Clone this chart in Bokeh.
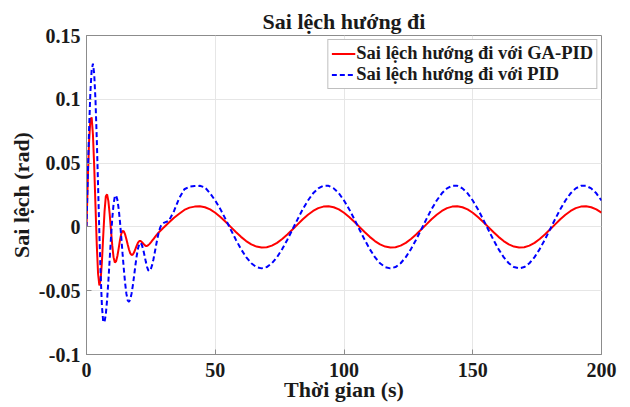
from bokeh.plotting import figure
from bokeh.models import Range1d, FixedTicker, CustomJSTickFormatter, Legend, LegendItem
from bokeh.embed import file_html
from bokeh.resources import INLINE

TITLE = "Sai lệch hướng đi"
X_LABEL = "Thời gian (s)"
Y_LABEL = "Sai lệch (rad)"
LABEL_GA = "Sai lệch hướng đi với GA-PID"
LABEL_PID = "Sai lệch hướng đi với PID"
X_TICKS = [0, 50, 100, 150, 200]
Y_TICKS = [-0.1, -0.05, 0, 0.05, 0.1, 0.15]

time_transient = [0, 0.5, 1, 1.5, 2, 2.5, 3, 3.5, 4, 4.5, 5, 5.5, 6, 6.5, 7, 7.5, 8, 8.5, 9, 9.5,
                  10, 10.5, 11, 11.5, 12, 12.5, 13, 13.5, 14, 14.5, 15, 15.5, 16, 16.5, 17, 17.5,
                  18, 18.5, 19, 19.5, 20, 20.5, 21, 21.5, 22, 22.5, 23, 23.5, 24, 24.5, 25, 25.5,
                  26, 26.5, 27, 27.5, 28, 28.5, 29, 29.5, 30]
time_steady = [32, 34, 36, 38, 40, 42, 44, 46, 48, 50, 52, 54, 56, 58, 60, 62, 64, 66, 68, 70,
               72, 74, 76, 78, 80, 82, 84, 86, 88, 90, 92, 94, 96, 98, 100, 102, 104, 106, 108,
               110, 112, 114, 116, 118, 120, 122, 124, 126, 128, 130, 132, 134, 136, 138, 140,
               142, 144, 146, 148, 150, 152, 154, 156, 158, 160, 162, 164, 166, 168, 170, 172,
               174, 176, 178, 180, 182, 184, 186, 188, 190, 192, 194, 196, 198, 200]

ga_pid_transient = [0, 0.0368, 0.0667, 0.0840, 0.0858, 0.0724, 0.0471, 0.0157, -0.0146, -0.0368,
                    -0.0459, -0.0413, -0.0268, -0.0069, 0.0120, 0.0239, 0.0255, 0.0202, 0.0102, -0.0023,
                    -0.0145, -0.0237, -0.0279, -0.0269, -0.0228, -0.0168, -0.0104, -0.0054, -0.0031, -0.0036,
                    -0.0059, -0.0096, -0.0138, -0.0177, -0.0207, -0.0220, -0.0216, -0.0199, -0.0173, -0.0146,
                    -0.0123, -0.0111, -0.0111, -0.0119, -0.0130, -0.0141, -0.0149, -0.0149, -0.0143, -0.0133,
                    -0.0121, -0.0108, -0.0095, -0.0082, -0.0069, -0.0057, -0.0045, -0.0034, -0.0024, -0.0014,
                    -0.0004]
ga_pid_steady = [0.0034, 0.0072, 0.0103, 0.0133, 0.0151, 0.0159, 0.0162,
                 0.0154, 0.0137, 0.0111, 0.0078, 0.0040, 0.0000, -0.0040, -0.0078, -0.0111, -0.0137,
                 -0.0154, -0.0162, -0.0159, -0.0147, -0.0125, -0.0095, -0.0060, -0.0020, 0.0020, 0.0060,
                 0.0095, 0.0125, 0.0147, 0.0159, 0.0162,
                 0.0154, 0.0137, 0.0111, 0.0078, 0.0040, 0.0000, -0.0040, -0.0078, -0.0111, -0.0137,
                 -0.0154, -0.0162, -0.0159, -0.0147, -0.0125, -0.0095, -0.0060, -0.0020, 0.0020, 0.0060,
                 0.0095, 0.0125, 0.0147, 0.0159, 0.0162,
                 0.0154, 0.0137, 0.0111, 0.0078, 0.0040, 0.0000, -0.0040, -0.0078, -0.0111, -0.0137,
                 -0.0154, -0.0162, -0.0159, -0.0147, -0.0125, -0.0095, -0.0060, -0.0020, 0.0020, 0.0060,
                 0.0095, 0.0125, 0.0147, 0.0159, 0.0162,
                 0.0154, 0.0137, 0.0111]

pid_transient = [0, 0.0403, 0.0765, 0.1050, 0.1228, 0.1279, 0.1197, 0.0989, 0.0681, 0.0318,
                 -0.0054, -0.0382, -0.0623, -0.0746, -0.0746, -0.0684, -0.0572, -0.0422, -0.0254, -0.0085,
                 0.0065, 0.0177, 0.0239, 0.0247, 0.0212, 0.0141, 0.0041, -0.0079, -0.0208, -0.0332,
                 -0.0441, -0.0525, -0.0575, -0.0587, -0.0568, -0.0523, -0.0458, -0.0381, -0.0300, -0.0227,
                 -0.0169, -0.0134, -0.0125, -0.0141, -0.0175, -0.0221, -0.0270, -0.0313, -0.0340, -0.0346,
                 -0.0330, -0.0298, -0.0254, -0.0202, -0.0147, -0.0094, -0.0048, -0.0012, 0.0012, 0.0025,
                 0.0032]
pid_steady = [0.0048, 0.0125, 0.0225, 0.0295, 0.0315, 0.0320, 0.0322, 0.0310,
              0.0263, 0.0207, 0.0139, 0.0061, -0.0020, -0.0100, -0.0174, -0.0237, -0.0285, -0.0315,
              -0.0325, -0.0315, -0.0285, -0.0237, -0.0174, -0.0100, -0.0020, 0.0061, 0.0139, 0.0207,
              0.0263, 0.0302, 0.0322, 0.0322, 0.0302,
              0.0263, 0.0207, 0.0139, 0.0061, -0.0020, -0.0100, -0.0174, -0.0237, -0.0285, -0.0315,
              -0.0325, -0.0315, -0.0285, -0.0237, -0.0174, -0.0100, -0.0020, 0.0061, 0.0139, 0.0207,
              0.0263, 0.0302, 0.0322, 0.0322, 0.0302,
              0.0263, 0.0207, 0.0139, 0.0061, -0.0020, -0.0100, -0.0174, -0.0237, -0.0285, -0.0315,
              -0.0325, -0.0315, -0.0285, -0.0237, -0.0174, -0.0100, -0.0020, 0.0061, 0.0139, 0.0207,
              0.0263, 0.0302, 0.0322, 0.0322, 0.0302,
              0.0263, 0.0207]

time_s = time_transient + time_steady
ga_pid = ga_pid_transient + ga_pid_steady
pid = pid_transient + pid_steady

FONT = "Liberation Serif"
FRAME = "#8c8c8c"
TEXT = "#1a1a1a"

p = figure(width=630, height=407, output_backend="svg", toolbar_location=None,
           x_range=Range1d(0, 200), y_range=Range1d(-0.1, 0.15),
           min_border_left=86, min_border_right=29, min_border_top=35, min_border_bottom=53)
p.background_fill_color = "white"
p.border_fill_color = "white"
p.outline_line_color = FRAME
p.outline_line_width = 1

p.title.text = TITLE
p.title.text_font = FONT
p.title.text_font_size = "22px"
p.title.text_font_style = "bold"
p.title.text_color = TEXT
p.title.align = "center"
p.title.standoff = 4

r_ga = p.line(time_s, ga_pid, line_color="#ff0000", line_width=2)
r_pid = p.line(time_s, pid, line_color="#0000ff", line_width=2, line_dash="5 3")

fmt = CustomJSTickFormatter(code="return String(Number(tick.toFixed(2)));")
for ax, ticks, lab in ((p.xaxis[0], X_TICKS, X_LABEL), (p.yaxis[0], Y_TICKS, Y_LABEL)):
    ax.ticker = FixedTicker(ticks=ticks)
    ax.formatter = fmt
    ax.axis_label = lab
    ax.axis_label_text_font = FONT
    ax.axis_label_text_font_size = "22px"
    ax.axis_label_text_font_style = "bold"
    ax.axis_label_text_color = TEXT
    ax.major_label_text_font = FONT
    ax.major_label_text_font_size = "20px"
    ax.major_label_text_font_style = "bold"
    ax.major_label_text_color = TEXT
    ax.axis_line_color = FRAME
    ax.major_tick_line_color = FRAME
    ax.major_tick_in = 5
    ax.major_tick_out = 0
    ax.minor_tick_line_color = None

p.xaxis[0].major_label_standoff = 8
p.xaxis[0].axis_label_standoff = -3
p.yaxis[0].major_label_standoff = 6
p.yaxis[0].axis_label_standoff = 2

p.xgrid.grid_line_color = "#e6e6e6"
p.ygrid.grid_line_color = "#e6e6e6"
p.xgrid.ticker = FixedTicker(ticks=X_TICKS)
p.ygrid.ticker = FixedTicker(ticks=Y_TICKS)

legend = Legend(items=[LegendItem(label=LABEL_GA, renderers=[r_ga]),
                       LegendItem(label=LABEL_PID, renderers=[r_pid])],
                location="top_right")
legend.label_text_font = FONT
legend.label_text_font_size = "18.5px"
legend.label_text_font_style = "bold"
legend.label_text_color = TEXT
legend.border_line_color = "#7f7f7f"
legend.border_line_width = 1
legend.background_fill_color = "white"
legend.background_fill_alpha = 1
legend.padding = 3
legend.spacing = 0
legend.margin = 4
legend.glyph_width = 24
legend.glyph_height = 21
legend.label_height = 21
legend.label_standoff = 1
p.add_layout(legend)

open("out.html", "w").write(file_html(p, INLINE))
